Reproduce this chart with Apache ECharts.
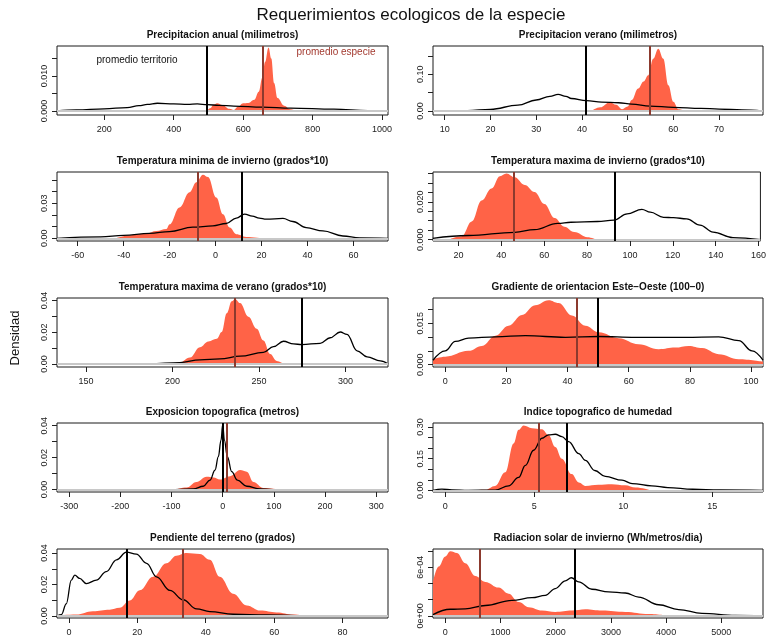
<!DOCTYPE html>
<html><head><meta charset="utf-8">
<script src="https://cdn.jsdelivr.net/npm/echarts@6/dist/echarts.min.js"></script>
<style>html,body{margin:0;padding:0;background:#fff}#c{width:769px;height:642px}</style>
</head><body><div id="c"></div><script>
// ---------- DATA ----------
const panelTitles = [
  'Precipitacion anual (milimetros)', 'Precipitacion verano (milimetros)',
  'Temperatura minima de invierno (grados*10)', 'Temperatura maxima de invierno (grados*10)',
  'Temperatura maxima de verano (grados*10)', 'Gradiente de orientacion Este\u2212Oeste (100\u22120)',
  'Exposicion topografica (metros)', 'Indice topografico de humedad',
  'Pendiente del terreno (grados)', 'Radiacion solar de invierno (Wh/metros/dia)'
];

// species density (red filled) and territory density (black line): [x, density]
const precipAnualEsp = [[495,0],[505,0.0008],[515,0.0018],[525,0.0022],[540,0.0017],[560,0.0006],[573,0.0003],[585,0.0012],[600,0.0022],[615,0.0023],[632,0.0032],[645,0.0055],[655,0.0095],[663,0.0140],[673,0.0182],[681,0.0150],[689,0.0080],[699,0.0037],[718,0.0015],[735,0.0005],[752,0]];
const precipAnualTer = [[64,0],[120,0.0003],[200,0.0006],[266,0.00096],[300,0.0015],[324,0.0019],[353,0.0022],[400,0.0020],[440,0.0019],[468,0.0020],[497,0.0018],[530,0.0016],[573,0.0014],[656,0.0011],[737,0.0008],[861,0.0005],[959,0.0001],[1017,0]];

const precipVeranoEsp = [[42.1,0],[44,0.010],[46.1,0.024],[47.5,0.017],[48.8,0.005],[50,0.012],[50.9,0.030],[52.3,0.061],[53.5,0.080],[54.5,0.097],[55.6,0.142],[56.7,0.169],[57.8,0.142],[58.9,0.070],[60,0.025],[61.1,0.0045],[62.5,0]];
const precipVeranoTer = [[10.7,0],[15,0.001],[20,0.0045],[26,0.016],[30,0.030],[33,0.040],[34.8,0.045],[36.5,0.040],[37.7,0.034],[41,0.028],[44.3,0.024],[48,0.0225],[50.9,0.019],[54.9,0.0135],[60,0.010],[66,0.0072],[70,0.0054],[75,0.003],[79.6,0]];

const tminInvEsp = [[-43.5,0],[-36,0.0029],[-30,0.0043],[-25.8,0.0063],[-21.4,0.008],[-20,0.012],[-15.7,0.0265],[-11.3,0.0395],[-8.4,0.048],[-5.5,0.0545],[-3.3,0.0525],[0.3,0.035],[3.2,0.0207],[6.1,0.0092],[9,0.0035],[13.3,0.0012],[20.6,0]];
const tminInvTer = [[-69,0],[-50,0.0012],[-40,0.0026],[-28.7,0.0043],[-20,0.0058],[-9.9,0.0095],[-1.2,0.0107],[4.6,0.0127],[9,0.0173],[12.6,0.0207],[16,0.019],[19,0.0173],[22,0.0164],[29.3,0.017],[33.6,0.0144],[39.4,0.0092],[46.7,0.0063],[55.4,0.002],[62.6,0.0003],[75,0]];

const tmaxInvEsp = [[15.4,0],[21.5,0.0018],[26.2,0.0096],[30.8,0.0206],[35.4,0.027],[39.3,0.0335],[42.4,0.0349],[46.2,0.0329],[50.9,0.0289],[55.5,0.0252],[60.1,0.0188],[64.8,0.0114],[69.4,0.0068],[74,0.004],[80.2,0.0013],[84.5,0]];
const tmaxInvTer = [[8,0.0007],[24.6,0.0022],[46.2,0.0039],[55.5,0.0053],[66.3,0.0086],[72.5,0.0092],[84.8,0.0096],[92.5,0.0103],[98.7,0.0136],[105.6,0.016],[109.5,0.0145],[115.7,0.0118],[120.3,0.0116],[126.5,0.011],[132.7,0.0077],[138.8,0.004],[148.1,0.0011],[161,0]];

const tmaxVerEsp = [[199.4,0],[204.2,0.0009],[210,0.004],[215.8,0.0105],[220.7,0.0141],[225.5,0.0158],[228.4,0.0201],[231.3,0.0319],[234.2,0.0394],[236.1,0.0409],[239,0.0383],[243.8,0.0297],[248.6,0.0222],[252.5,0.0148],[256.4,0.0062],[260.2,0.0019],[264.1,0]];
const tmaxVerTer = [[156,0],[186.9,0.0002],[204.2,0.0009],[215.8,0.0026],[227.4,0.0032],[239,0.0049],[252.5,0.0073],[258.3,0.0109],[264.1,0.0143],[269.9,0.0126],[274.7,0.0122],[285.3,0.013],[291.1,0.0165],[296.9,0.0201],[300.8,0.0186],[306.6,0.0083],[312.4,0.0045],[320.1,0.0019],[324.5,0]];

const gradOrientEsp = [[-4,0.002],[0,0.0029],[7.6,0.005],[12,0.0068],[16.4,0.0105],[20.7,0.0141],[25.1,0.018],[29.4,0.0215],[33.8,0.0233],[37.1,0.0223],[41.4,0.0178],[45.8,0.0141],[50.2,0.0117],[56.7,0.0096],[63.2,0.0074],[69.8,0.0056],[75.2,0.0062],[79.6,0.0068],[84,0.006],[89.4,0.0038],[96,0.002],[103.9,0.0011]];
const gradOrientTer = [[-4,0.0016],[0,0.005],[3.3,0.0084],[7.6,0.0096],[16.4,0.0101],[26.2,0.0105],[39.3,0.0099],[50.2,0.0102],[62.2,0.0099],[78.5,0.0099],[89.4,0.0101],[96,0.0087],[100.3,0.005],[103.9,0.0016]];

const exposTopoEsp = [[-93,0],[-70.5,0.0013],[-51,0.0048],[-31.3,0.008],[-18.3,0.0076],[-5.2,0.0063],[14.4,0.0084],[34,0.0122],[47,0.0112],[60,0.0048],[79.6,0.001],[109,0]];
const exposTopoTer = [[-93,0],[-57.4,0.0004],[-37.9,0.0021],[-24.8,0.0059],[-15,0.0122],[-8.5,0.0206],[-3.3,0.031],[0,0.0406],[3.3,0.031],[9.1,0.0206],[17.6,0.0112],[28.7,0.0059],[47,0.0021],[73,0.0004],[99,0]];

const indiceHumEsp = [[1.5,0],[2.25,0.003],[2.8,0.021],[3.37,0.0855],[3.84,0.2226],[4.12,0.287],[4.4,0.308],[4.87,0.295],[5.43,0.290],[5.8,0.263],[6.18,0.206],[6.55,0.15],[7.1,0.077],[7.5,0.037],[7.87,0.021],[8.6,0.026],[9.36,0.029],[10.1,0.024],[10.7,0.013],[11.5,0]];
const indiceHumTer = [[-0.69,0],[-0.19,0.006],[0.37,0.0016],[1.3,0],[2.8,0.001],[3.56,0.021],[4.12,0.061],[4.5,0.118],[4.96,0.19],[5.43,0.247],[5.8,0.263],[6.18,0.266],[6.55,0.255],[6.93,0.231],[7.5,0.174],[7.87,0.142],[8.4,0.094],[8.99,0.066],[9.93,0.048],[10.5,0.032],[11.6,0.021],[12.5,0.013],[13.9,0.005],[15.4,0.002],[17.85,0]];

const pendienteEsp = [[-3.5,0.0002],[2.1,0.0009],[7,0.003],[11.9,0.004],[14.8,0.0052],[17.8,0.0099],[20.7,0.0163],[24.6,0.0249],[28.5,0.0335],[31.4,0.0383],[34.4,0.04],[38.3,0.0394],[41.2,0.0357],[44.1,0.0249],[48,0.0142],[52,0.0067],[55.9,0.0034],[60.7,0.0022],[65.6,0.0009],[69.5,0]];
const pendienteTer = [[-3.5,0],[-2.2,0.0009],[-0.8,0.0077],[0.7,0.0228],[1.7,0.026],[3.1,0.0239],[5.1,0.0206],[8,0.0228],[10.9,0.0282],[13.9,0.0357],[16.8,0.0406],[19.7,0.0394],[22.7,0.0335],[25.6,0.0249],[29.5,0.0163],[33.4,0.0103],[37.3,0.0045],[41.2,0.0028],[48,0.0011],[57.8,0.0006],[67.6,0]];

const radSolarEsp = [[-223,4.2e-4],[-121,6.08e-4],[0,7.33e-4],[91,7.96e-4],[211,7.75e-4],[362,6.5e-4],[543,4.92e-4],[725,4.2e-4],[966,3.5e-4],[1147,2.75e-4],[1329,1.71e-4],[1510,1.08e-4],[1751,0.67e-4],[1993,0.5e-4],[2295,0.67e-4],[2536,0.83e-4],[2838,0.67e-4],[3261,0.5e-4],[3684,0.25e-4],[4076,0]];
const radSolarTer = [[-223,0.17e-4],[91,0.83e-4],[362,0.88e-4],[725,1.29e-4],[1208,1.92e-4],[1570,2.25e-4],[1812,2.54e-4],[1993,3.38e-4],[2174,4.33e-4],[2283,4.71e-4],[2415,4.2e-4],[2657,3.29e-4],[2959,2.96e-4],[3261,2.83e-4],[3502,2.33e-4],[3865,1.38e-4],[4227,0.79e-4],[4650,0.33e-4],[5254,0.08e-4],[5755,0.04e-4]];

const especieData = [precipAnualEsp, precipVeranoEsp, tminInvEsp, tmaxInvEsp, tmaxVerEsp, gradOrientEsp, exposTopoEsp, indiceHumEsp, pendienteEsp, radSolarEsp];
const territorioData = [precipAnualTer, precipVeranoTer, tminInvTer, tmaxInvTer, tmaxVerTer, gradOrientTer, exposTopoTer, indiceHumTer, pendienteTer, radSolarTer];

// means (vertical lines)
const mediaEspecie = [655, 54.9, -7.7, 45.9, 236.1, 42.9, 8.5, 5.26, 33.3, 616];
const mediaTerritorio = [496, 40.9, 11.4, 93, 274.5, 49.8, -0.7, 6.82, 17, 2343];

// axis extents
const xMin = [64, 7.44, -69, 8.1, 133.2, -4, -323.8, -0.69, -3.5, -223];
const xMax = [1017, 79.6, 75, 160.9, 324.5, 103.9, 323, 17.85, 93.3, 5755];
const yMin = [-0.00116, -0.0108, -0.0023, -0.0007, -0.0019, -0.00085, -0.0015, -0.008, -0.0013, -0.25e-4];
const yMax = [0.0186, 0.1766, 0.0568, 0.0357, 0.0415, 0.02415, 0.0417, 0.3194, 0.0426, 8.25e-4];

// tick values & labels
const xTicks = [
  [200,400,600,800,1000], [10,20,30,40,50,60,70], [-60,-40,-20,0,20,40,60],
  [20,40,60,80,100,120,140,160], [150,200,250,300], [0,20,40,60,80,100],
  [-300,-200,-100,0,100,200,300], [0,5,10,15], [0,20,40,60,80], [0,1000,2000,3000,4000,5000]
];
const yTicks = [
  [0,0.005,0.01,0.015], [0,0.05,0.10,0.15], [0,0.01,0.02,0.03,0.04,0.05],
  [0,0.005,0.01,0.015,0.02,0.025,0.03,0.035], [0,0.01,0.02,0.03,0.04], [0,0.005,0.01,0.015,0.02],
  [0,0.01,0.02,0.03,0.04], [0,0.05,0.10,0.15,0.20,0.25,0.30], [0,0.01,0.02,0.03,0.04], [0,2e-4,4e-4,6e-4,8e-4]
];
const yLabelVals = [
  [0,0.01], [0,0.10], [0,0.03], [0,0.02], [0,0.02,0.04], [0,0.015], [0,0.02,0.04], [0,0.15,0.30], [0,0.02,0.04], [0,6e-4]
];
const yLabelTxt = [
  ['0.000','0.010'], ['0.00','0.10'], ['0.00','0.03'], ['0.000','0.020'], ['0.00','0.02','0.04'],
  ['0.000','0.015'], ['0.00','0.02','0.04'], ['0.00','0.15','0.30'], ['0.00','0.02','0.04'], ['0e+00','6e-04']
];
const xLabelTxt = xTicks.map(a => a.map(String));

// ---------- CHART ----------
const FONT = "'Liberation Sans Narrow', 'Liberation Sans', Arial, sans-serif";
const RED = '#FF6347', RED_LINE = '#8c3a2e', RED_TEXT = '#a33a30';
const colLeft = [57, 433], colWidth = [331, 330];
const rowTop = [46, 172, 298, 423, 549], rowH = 69;

const grids = [], xAxes = [], yAxes = [], series = [], graphics = [];
for (let i = 0; i < 10; i++) {
  const c = i % 2, r = Math.floor(i / 2);
  grids.push({ left: colLeft[c], top: rowTop[r], width: colWidth[c], height: rowH,
    show: true, borderColor: '#1a1a1a', borderWidth: 1, backgroundColor: 'transparent', containLabel: false });
  xAxes.push({ type: 'value', gridIndex: i, min: xMin[i], max: xMax[i], position: 'bottom',
    axisLine: { show: false, onZero: false }, splitLine: { show: false },
    axisTick: { show: true, inside: false, length: 5, lineStyle: { color: '#222' }, customValues: xTicks[i] },
    axisLabel: { show: true, margin: 10, fontSize: 9, color: '#222', fontFamily: FONT, customValues: xTicks[i],
      formatter: v => { const k = xTicks[i].findIndex(t => Math.abs(t - v) < 1e-9); return k >= 0 ? xLabelTxt[i][k] : ''; } } });
  yAxes.push({ type: 'value', gridIndex: i, min: yMin[i], max: yMax[i], position: 'left',
    axisLine: { show: false, onZero: false }, splitLine: { show: false },
    axisTick: { show: true, inside: false, length: 5, lineStyle: { color: '#222' }, customValues: yTicks[i] },
    axisLabel: { show: true, margin: 8, rotate: 90, fontSize: 9, color: '#222', fontFamily: FONT, customValues: yLabelVals[i],
      formatter: v => { const k = yLabelVals[i].findIndex(t => Math.abs(t - v) < 1e-12); return k >= 0 ? yLabelTxt[i][k] : ''; } } });

  // zero line (gray)
  series.push({ type: 'line', xAxisIndex: i, yAxisIndex: i, data: [], z: 1, silent: true,
    markLine: { silent: true, symbol: ['none','none'], label: { show: false }, animation: false,
      lineStyle: { color: '#c8c8c8', width: 2, type: 'solid' }, data: [{ yAxis: 0 }] } });
  // species density (filled)
  series.push({ type: 'line', xAxisIndex: i, yAxisIndex: i, data: especieData[i], z: 2,
    smooth: 0.4, smoothMonotone: 'x', showSymbol: false, symbol: 'none',
    lineStyle: { width: 0, color: RED }, areaStyle: { color: RED, opacity: 1 }, silent: true });
  // territory density (black line)
  series.push({ type: 'line', xAxisIndex: i, yAxisIndex: i, data: territorioData[i], z: 3,
    smooth: 0.4, smoothMonotone: 'x', showSymbol: false, symbol: 'none',
    lineStyle: { width: 1.3, color: '#000' }, silent: true });
  // means
  series.push({ type: 'line', xAxisIndex: i, yAxisIndex: i, data: [], z: 4, silent: true,
    markLine: { silent: true, symbol: ['none','none'], label: { show: false }, animation: false,
      data: [
        { xAxis: mediaEspecie[i], lineStyle: { color: RED_LINE, width: 2, type: 'solid' } },
        { xAxis: mediaTerritorio[i], lineStyle: { color: '#000', width: 2, type: 'solid' } }
      ] } });

  graphics.push({ type: 'text', x: colLeft[c] + colWidth[c] / 2, y: rowTop[r] - 11,
    style: { text: panelTitles[i], font: 'bold 10px ' + FONT, fill: '#111', align: 'center', verticalAlign: 'middle' } });
}

graphics.push({ type: 'text', x: 411, y: 15,
  style: { text: 'Requerimientos ecologicos de la especie', font: '17px ' + FONT, fill: '#111', align: 'center', verticalAlign: 'middle' } });
graphics.push({ type: 'text', x: 15, y: 338, rotation: Math.PI / 2,
  style: { text: 'Densidad', font: '13px ' + FONT, fill: '#111', align: 'center', verticalAlign: 'middle' } });
graphics.push({ type: 'text', x: 137, y: 60,
  style: { text: 'promedio territorio', font: '10px ' + FONT, fill: '#111', align: 'center', verticalAlign: 'middle' } });
graphics.push({ type: 'text', x: 336, y: 52,
  style: { text: 'promedio especie', font: '10px ' + FONT, fill: RED_TEXT, align: 'center', verticalAlign: 'middle' } });

const chart = echarts.init(document.getElementById('c'), null, { renderer: 'canvas' });
chart.setOption({
  animation: false,
  backgroundColor: '#fff',
  grid: grids, xAxis: xAxes, yAxis: yAxes, series: series, graphic: graphics
});
</script></body></html>
